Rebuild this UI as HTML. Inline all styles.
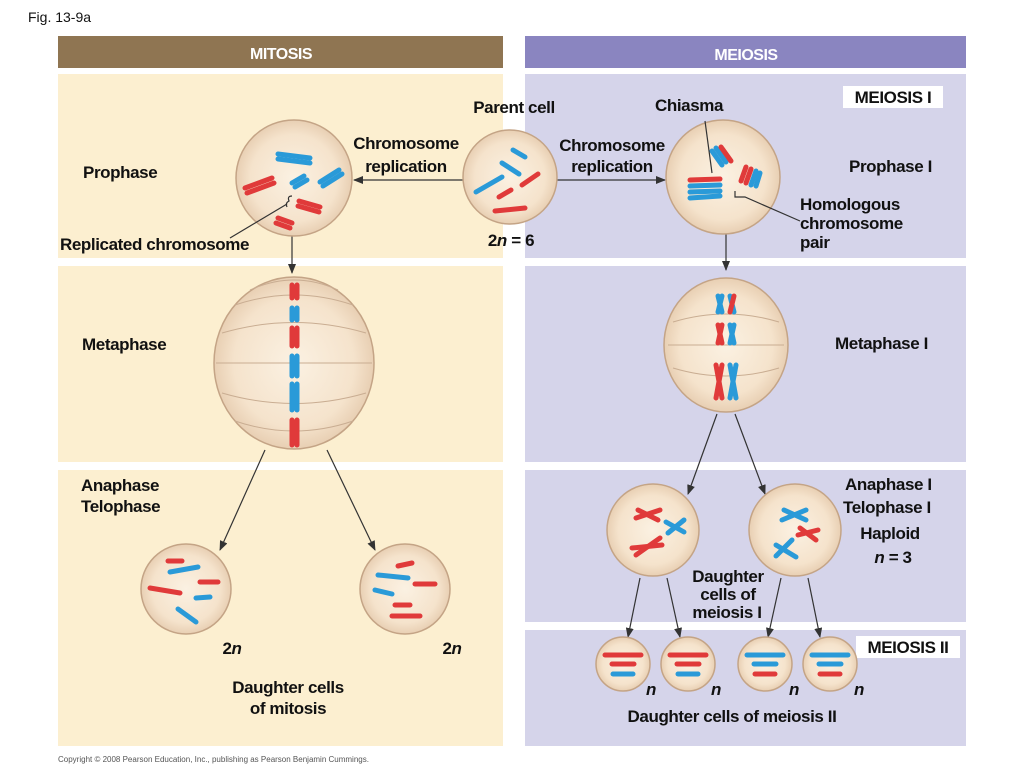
<!DOCTYPE html>
<html><head><meta charset="utf-8"><style>
body{margin:0;background:#fff}
svg{display:block}
text{font-family:"Liberation Sans",Arial,sans-serif;font-weight:bold;fill:#111}
</style></head><body>
<svg width="1024" height="768" viewBox="0 0 1024 768" xmlns="http://www.w3.org/2000/svg">
<defs>
<radialGradient id="cg" cx="50%" cy="50%" r="50%"><stop offset="0" stop-color="#fbf1e2"/><stop offset="0.75" stop-color="#f5e3cc"/><stop offset="1" stop-color="#e8cfb3"/></radialGradient>
<marker id="ar" markerWidth="10" markerHeight="8" refX="9" refY="4" orient="auto" markerUnits="userSpaceOnUse"><path d="M0,0 L10,4 L0,8 z" fill="#333"/></marker>
</defs>
<style>
.c{fill:url(#cg);stroke:#c4a486;stroke-width:1.5}
.r{stroke:#e03a3a;stroke-width:5;stroke-linecap:round}
.b{stroke:#2a9ad8;stroke-width:5;stroke-linecap:round}
.ln{stroke:#333;stroke-width:1.2;fill:none}
.sp{stroke:#c9ad92;stroke-width:1;fill:none}
</style>
<text x="28" y="22" style="font-weight:normal;font-size:14px">Fig. 13-9a</text>
<rect x="58" y="36" width="445" height="32" fill="#8f7552"/>
<rect x="525" y="36" width="441" height="32" fill="#8a85c0"/>
<text x="281" y="59" text-anchor="middle" style="fill:#fff;font-size:16px" letter-spacing="-0.5">MITOSIS</text>
<text x="746" y="60" text-anchor="middle" style="fill:#fff;font-size:16px" letter-spacing="-0.5">MEIOSIS</text>
<g fill="#fcefd0">
<rect x="58" y="74" width="445" height="184"/><rect x="58" y="266" width="445" height="196"/><rect x="58" y="470" width="445" height="276"/>
</g>
<g fill="#d5d4ea">
<rect x="525" y="74" width="441" height="184"/><rect x="525" y="266" width="441" height="196"/><rect x="525" y="470" width="441" height="152"/><rect x="525" y="630" width="441" height="116"/>
</g>
<rect x="843" y="86" width="100" height="22" fill="#fff"/>
<rect x="856" y="636" width="104" height="22" fill="#fff"/>

<!-- arrows -->
<line x1="463" y1="180" x2="354" y2="180" class="ln" marker-end="url(#ar)"/>
<line x1="557" y1="180" x2="665" y2="180" class="ln" marker-end="url(#ar)"/>
<line x1="292" y1="236" x2="292" y2="273" class="ln" marker-end="url(#ar)"/>
<line x1="726" y1="234" x2="726" y2="270" class="ln" marker-end="url(#ar)"/>
<line x1="265" y1="450" x2="220" y2="550" class="ln" marker-end="url(#ar)"/>
<line x1="327" y1="450" x2="375" y2="550" class="ln" marker-end="url(#ar)"/>
<line x1="717" y1="414" x2="688" y2="494" class="ln" marker-end="url(#ar)"/>
<line x1="735" y1="414" x2="765" y2="494" class="ln" marker-end="url(#ar)"/>
<line x1="640" y1="578" x2="628" y2="637" class="ln" marker-end="url(#ar)"/>
<line x1="667" y1="578" x2="680" y2="637" class="ln" marker-end="url(#ar)"/>
<line x1="781" y1="578" x2="768" y2="637" class="ln" marker-end="url(#ar)"/>
<line x1="808" y1="578" x2="820" y2="637" class="ln" marker-end="url(#ar)"/>

<!-- mitosis prophase -->
<g transform="translate(0,6)">
<circle cx="294" cy="172" r="58" class="c"/>
<line x1="278" y1="148" x2="310" y2="152" class="b"/><line x1="278" y1="153" x2="310" y2="157" class="b"/>
<line x1="245" y1="182" x2="272" y2="172" class="r"/><line x1="247" y1="187" x2="274" y2="177" class="r"/>
<line x1="292" y1="177" x2="304" y2="170" class="b"/><line x1="295" y1="181" x2="307" y2="174" class="b"/>
<line x1="320" y1="176" x2="339" y2="164" class="b"/><line x1="323" y1="180" x2="342" y2="168" class="b"/>
<line x1="299" y1="195" x2="320" y2="201" class="r"/><line x1="298" y1="200" x2="319" y2="206" class="r"/>
<line x1="278" y1="212" x2="292" y2="217" class="r"/><line x1="276" y1="217" x2="290" y2="222" class="r"/>
<path d="M292,190 q-5,0 -3,5 q-4,2 -2,6" class="ln"/>
<line x1="287" y1="198" x2="230" y2="232" class="ln"/>
</g>

<!-- parent -->
<g transform="translate(0,7)">
<circle cx="510" cy="170" r="47" class="c"/>
<line x1="513" y1="143" x2="525" y2="150" class="b"/><line x1="502" y1="156" x2="519" y2="167" class="b"/>
<line x1="476" y1="185" x2="502" y2="170" class="b"/><line x1="522" y1="178" x2="538" y2="167" class="r"/>
<line x1="499" y1="190" x2="511" y2="183" class="r"/><line x1="495" y1="204" x2="525" y2="201" class="r"/>
</g>

<!-- meiosis prophase -->
<g transform="translate(0,5)">
<circle cx="723" cy="172" r="57" class="c"/>
<line x1="690" y1="175" x2="720" y2="174" class="r"/><line x1="690" y1="181" x2="720" y2="180" class="b"/><line x1="690" y1="187" x2="720" y2="186" class="b"/><line x1="690" y1="193" x2="720" y2="191" class="b"/>
<line x1="712" y1="146" x2="722" y2="160" class="b"/><line x1="716" y1="143" x2="726" y2="157" class="b"/><line x1="721" y1="142" x2="731" y2="156" class="r"/>
<line x1="741" y1="176" x2="746" y2="162" class="r"/><line x1="746" y1="178" x2="751" y2="164" class="r"/><line x1="751" y1="180" x2="756" y2="166" class="b"/><line x1="756" y1="181" x2="760" y2="168" class="b"/>
<path d="M735,186 l0,6 l10,0 l55,24" class="ln"/>
<line x1="705" y1="116" x2="712" y2="168" class="ln"/>
</g>

<!-- metaphase mitosis -->
<ellipse cx="294" cy="363" rx="80" ry="86" class="c"/>
<g class="sp"><path d="M216,363 L372,363"/><path d="M222,333 Q294,312 366,333"/><path d="M222,393 Q294,414 366,393"/><path d="M235,305 Q294,285 353,305"/><path d="M235,421 Q294,441 353,421"/><path d="M250,290 Q294,270 338,290"/></g>
<g><line x1="292" y1="285" x2="292" y2="298" class="r"/><line x1="297" y1="285" x2="297" y2="298" class="r"/>
<line x1="292" y1="308" x2="292" y2="320" class="b"/><line x1="297" y1="308" x2="297" y2="320" class="b"/>
<line x1="292" y1="328" x2="292" y2="346" class="r"/><line x1="297" y1="328" x2="297" y2="346" class="r"/>
<line x1="292" y1="356" x2="292" y2="376" class="b"/><line x1="297" y1="356" x2="297" y2="376" class="b"/>
<line x1="292" y1="384" x2="292" y2="410" class="b"/><line x1="297" y1="384" x2="297" y2="410" class="b"/>
<line x1="292" y1="420" x2="292" y2="445" class="r"/><line x1="297" y1="420" x2="297" y2="445" class="r"/></g>

<!-- metaphase I -->
<ellipse cx="726" cy="345" rx="62" ry="67" class="c"/>
<g class="sp"><path d="M668,345 L784,345"/><path d="M673,322 Q726,306 779,322"/><path d="M673,368 Q726,384 779,368"/></g>
<g><line x1="718" y1="296" x2="722" y2="312" class="b"/><line x1="722" y1="296" x2="718" y2="312" class="b"/><line x1="730" y1="296" x2="734" y2="312" class="b"/><line x1="734" y1="296" x2="730" y2="312" class="r"/>
<line x1="718" y1="325" x2="722" y2="343" class="r"/><line x1="722" y1="325" x2="718" y2="343" class="r"/><line x1="730" y1="325" x2="734" y2="343" class="b"/><line x1="734" y1="325" x2="730" y2="343" class="b"/>
<line x1="716" y1="365" x2="722" y2="398" class="r"/><line x1="722" y1="365" x2="716" y2="398" class="r"/><line x1="730" y1="365" x2="736" y2="398" class="b"/><line x1="736" y1="365" x2="730" y2="398" class="b"/></g>

<!-- anaphase I cells -->
<circle cx="653" cy="530" r="46" class="c"/>
<g><line x1="636" y1="518" x2="660" y2="510" class="r"/><line x1="638" y1="510" x2="658" y2="520" class="r"/>
<line x1="666" y1="522" x2="684" y2="532" class="b"/><line x1="668" y1="533" x2="684" y2="520" class="b"/>
<line x1="632" y1="548" x2="662" y2="545" class="r"/><line x1="636" y1="555" x2="660" y2="538" class="r"/></g>
<circle cx="795" cy="530" r="46" class="c"/>
<g><line x1="782" y1="520" x2="806" y2="510" class="b"/><line x1="784" y1="510" x2="806" y2="520" class="b"/>
<line x1="798" y1="535" x2="818" y2="530" class="r"/><line x1="800" y1="528" x2="816" y2="540" class="r"/>
<line x1="776" y1="545" x2="796" y2="557" class="b"/><line x1="776" y1="556" x2="792" y2="540" class="b"/></g>

<!-- mitosis daughters -->
<circle cx="186" cy="589" r="45" class="c"/>
<g><line x1="168" y1="561" x2="182" y2="561" class="r"/><line x1="170" y1="572" x2="198" y2="567" class="b"/><line x1="200" y1="582" x2="218" y2="582" class="r"/>
<line x1="150" y1="588" x2="180" y2="593" class="r"/><line x1="196" y1="598" x2="210" y2="597" class="b"/><line x1="178" y1="609" x2="196" y2="622" class="b"/></g>
<circle cx="405" cy="589" r="45" class="c"/>
<g><line x1="398" y1="566" x2="412" y2="563" class="r"/><line x1="378" y1="575" x2="408" y2="578" class="b"/><line x1="415" y1="584" x2="435" y2="584" class="r"/>
<line x1="375" y1="590" x2="392" y2="594" class="b"/><line x1="395" y1="605" x2="410" y2="605" class="r"/><line x1="392" y1="616" x2="420" y2="616" class="r"/></g>

<!-- meiosis II -->
<g>
<circle cx="623" cy="664" r="27" class="c"/><line x1="605" y1="655" x2="641" y2="655" class="r"/><line x1="612" y1="664" x2="634" y2="664" class="r"/><line x1="613" y1="674" x2="633" y2="674" class="b"/>
<circle cx="688" cy="664" r="27" class="c"/><line x1="670" y1="655" x2="706" y2="655" class="r"/><line x1="677" y1="664" x2="699" y2="664" class="r"/><line x1="678" y1="674" x2="698" y2="674" class="b"/>
<circle cx="765" cy="664" r="27" class="c"/><line x1="747" y1="655" x2="783" y2="655" class="b"/><line x1="754" y1="664" x2="776" y2="664" class="b"/><line x1="755" y1="674" x2="775" y2="674" class="r"/>
<circle cx="830" cy="664" r="27" class="c"/><line x1="812" y1="655" x2="848" y2="655" class="b"/><line x1="819" y1="664" x2="841" y2="664" class="b"/><line x1="820" y1="674" x2="840" y2="674" class="r"/>
</g>

<!-- labels -->
<g style="font-size:17px" letter-spacing="-0.4">
<text x="83" y="178">Prophase</text>
<text x="82" y="350">Metaphase</text>
<text x="81" y="491">Anaphase</text>
<text x="81" y="512">Telophase</text>
<text x="60" y="250">Replicated chromosome</text>
<text x="406" y="149" text-anchor="middle">Chromosome</text>
<text x="406" y="172" text-anchor="middle">replication</text>
<text x="612" y="151" text-anchor="middle">Chromosome</text>
<text x="612" y="172" text-anchor="middle">replication</text>
<text x="514" y="113" text-anchor="middle">Parent cell</text>
<text x="511" y="246" text-anchor="middle">2<tspan font-style="italic">n</tspan> = 6</text>
<text x="689" y="111" text-anchor="middle">Chiasma</text>
<text x="893" y="103" text-anchor="middle">MEIOSIS I</text>
<text x="849" y="172">Prophase I</text>
<text x="800" y="210">Homologous</text>
<text x="800" y="229">chromosome</text>
<text x="800" y="248">pair</text>
<text x="835" y="349">Metaphase I</text>
<text x="845" y="490">Anaphase I</text>
<text x="843" y="513">Telophase I</text>
<text x="890" y="539" text-anchor="middle">Haploid</text>
<text x="893" y="563" text-anchor="middle"><tspan font-style="italic">n</tspan> = 3</text>
<text x="728" y="582" text-anchor="middle">Daughter</text>
<text x="728" y="600" text-anchor="middle">cells of</text>
<text x="727" y="618" text-anchor="middle">meiosis I</text>
<text x="908" y="653" text-anchor="middle">MEIOSIS II</text>
<text x="232" y="654" text-anchor="middle">2<tspan font-style="italic">n</tspan></text>
<text x="452" y="654" text-anchor="middle">2<tspan font-style="italic">n</tspan></text>
<text x="288" y="693" text-anchor="middle">Daughter cells</text>
<text x="288" y="714" text-anchor="middle">of mitosis</text>
<text x="732" y="722" text-anchor="middle">Daughter cells of meiosis II</text>
<text x="646" y="695" font-style="italic">n</text><text x="711" y="695" font-style="italic">n</text><text x="789" y="695" font-style="italic">n</text><text x="854" y="695" font-style="italic">n</text>
</g>
<text x="58" y="762" style="font-weight:normal;font-size:8px;fill:#555">Copyright © 2008 Pearson Education, Inc., publishing as Pearson Benjamin Cummings.</text>
</svg>
</body></html>
